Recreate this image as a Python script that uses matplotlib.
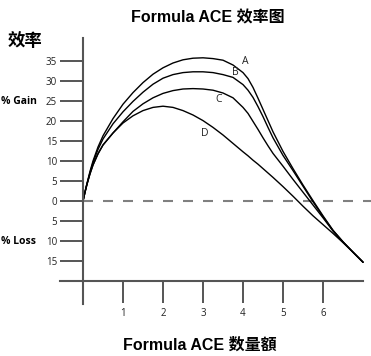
import matplotlib
matplotlib.use('Agg')
import matplotlib.pyplot as plt

plt.rcParams['font.family'] = ['Liberation Sans', 'Noto Sans CJK SC', 'DejaVu Sans']
plt.rcParams['lines.scale_dashes'] = False

# quantity (x) sample points
x_pts = [0, 0.05, 0.1, 0.175, 0.25, 0.375, 0.5, 0.75, 1.0, 1.25, 1.5, 1.75, 2.0, 2.25,
         2.5, 2.75, 3.0, 3.25, 3.5, 3.75, 4.0, 4.125, 4.25, 4.375, 4.5, 4.625, 4.75,
         5.0, 5.25, 5.5, 5.75, 6.0, 6.25, 6.5, 6.75, 7.0]

curve_a = [0, 2.3, 4.4, 7.4, 10.0, 13.5, 16.3, 20.6, 24.2, 27.1, 29.6, 31.7, 33.3, 34.5,
           35.3, 35.7, 35.8, 35.6, 35.2, 34.0, 32.1, 30.6, 28.4, 25.7, 22.9, 20.1, 17.3,
           12.4, 8.1, 4.0, 0.1, -3.7, -7.3, -10.2, -12.8, -15.3]
curve_b = [0, 2.25, 4.3, 7.1, 9.6, 12.9, 15.5, 19.3, 22.3, 24.9, 27.2, 29.2, 30.7, 31.6,
           32.1, 32.3, 32.3, 32.1, 31.6, 30.9, 29.1, 27.7, 25.9, 23.6, 21.1, 18.4, 15.8,
           11.4, 7.6, 3.7, -0.2, -3.9, -7.4, -10.2, -12.8, -15.3]
curve_c = [0, 2.2, 4.2, 6.8, 9.0, 11.8, 14.0, 17.0, 19.8, 22.4, 24.3, 25.8, 26.9, 27.6,
           28.0, 28.1, 28.0, 27.7, 27.0, 25.8, 23.4, 21.9, 19.9, 17.9, 15.8, 13.8, 11.9,
           8.7, 5.4, 2.2, -1.0, -4.2, -7.5, -10.3, -12.8, -15.3]
curve_d = [0, 2.2, 4.2, 6.8, 9.0, 11.8, 14.0, 17.0, 19.5, 21.3, 22.6, 23.4, 23.7, 23.4,
           22.6, 21.5, 20.1, 18.4, 16.5, 14.4, 12.3, 11.3, 10.2, 9.2, 8.1, 7.0, 5.9,
           3.6, 1.2, -1.3, -3.7, -5.9, -8.1, -10.4, -12.8, -15.3]

curve_names = ['A', 'B', 'C', 'D']
y_ticks = [35, 30, 25, 20, 15, 10, 5, 0, -5, -10, -15]
y_tick_labels = ['35', '30', '25', '20', '15', '10', '5', '0', '5', '10', '15']
x_ticks = [1, 2, 3, 4, 5, 6]

fig = plt.figure(figsize=(3.71, 3.56), dpi=100)
ax = fig.add_axes([0, 0, 1, 1])
ax.set_xlim(-2.075, 7.2)
ax.set_ylim(-38.75, 50.25)
ax.patch.set_visible(False)

axis_col = '#555555'
for s in ['top', 'right']:
    ax.spines[s].set_visible(False)
ax.spines['left'].set_position(('data', 0))
ax.spines['bottom'].set_position(('data', -20))
ax.spines['left'].set_bounds(-25.75, 40.75)
ax.spines['bottom'].set_bounds(-0.575, 7.0)
for s in ['left', 'bottom']:
    ax.spines[s].set_color(axis_col)
    ax.spines[s].set_linewidth(1.5)

ax.set_yticks(y_ticks)
ax.set_yticklabels(y_tick_labels)
ax.set_xticks(x_ticks)
ax.set_xticklabels([str(t) for t in x_ticks])
tick_font = ['Open Sans', 'DejaVu Sans']
ax.tick_params(axis='y', direction='out', length=16.6, width=1.4, color=axis_col,
               pad=2, labelsize=7, labelcolor='#222222')
ax.tick_params(axis='x', direction='out', length=15.8, width=1.4, color=axis_col,
               pad=3.5, labelsize=7, labelcolor='#222222')
for lab in ax.get_xticklabels() + ax.get_yticklabels():
    lab.set_family(tick_font)

# zero reference line
ax.hlines(0, 0, 7.2, colors='#808080', linewidth=1.5, linestyles=(0, (7.2, 7.2)))

for ys in [curve_a, curve_b, curve_c, curve_d]:
    ax.plot(x_pts, ys, color='black', linewidth=1.0, solid_capstyle='round',
            solid_joinstyle='round')

label_xy = [(4.05, 35.0), (3.8, 32.2), (3.38, 25.4), (3.05, 16.9)]
for name, (lx, ly) in zip(curve_names, label_xy):
    ax.text(lx, ly, name, fontsize=7.5, family=tick_font, color='#222222',
            ha='center', va='center')

fig.text(208 / 371, 1 - 18 / 356, 'Formula ACE 效率图', fontsize=11.5, fontweight='bold',
         ha='center', va='center')
fig.text(200 / 371, 1 - 345 / 356, 'Formula ACE 数量額', fontsize=11.5, fontweight='bold',
         ha='center', va='center')
fig.text(8 / 371, 1 - 41 / 356, '效率', fontsize=12.5, fontweight='bold',
         family=['Noto Sans CJK SC', 'DejaVu Sans'], ha='left', va='center')
fig.text(1 / 371, 1 - 101 / 356, '% Gain', fontsize=7.5, fontweight='bold',
         family=tick_font, ha='left', va='center')
fig.text(1 / 371, 1 - 241 / 356, '% Loss', fontsize=7.5, fontweight='bold',
         family=tick_font, ha='left', va='center')

fig.savefig('out.png', dpi=100)
